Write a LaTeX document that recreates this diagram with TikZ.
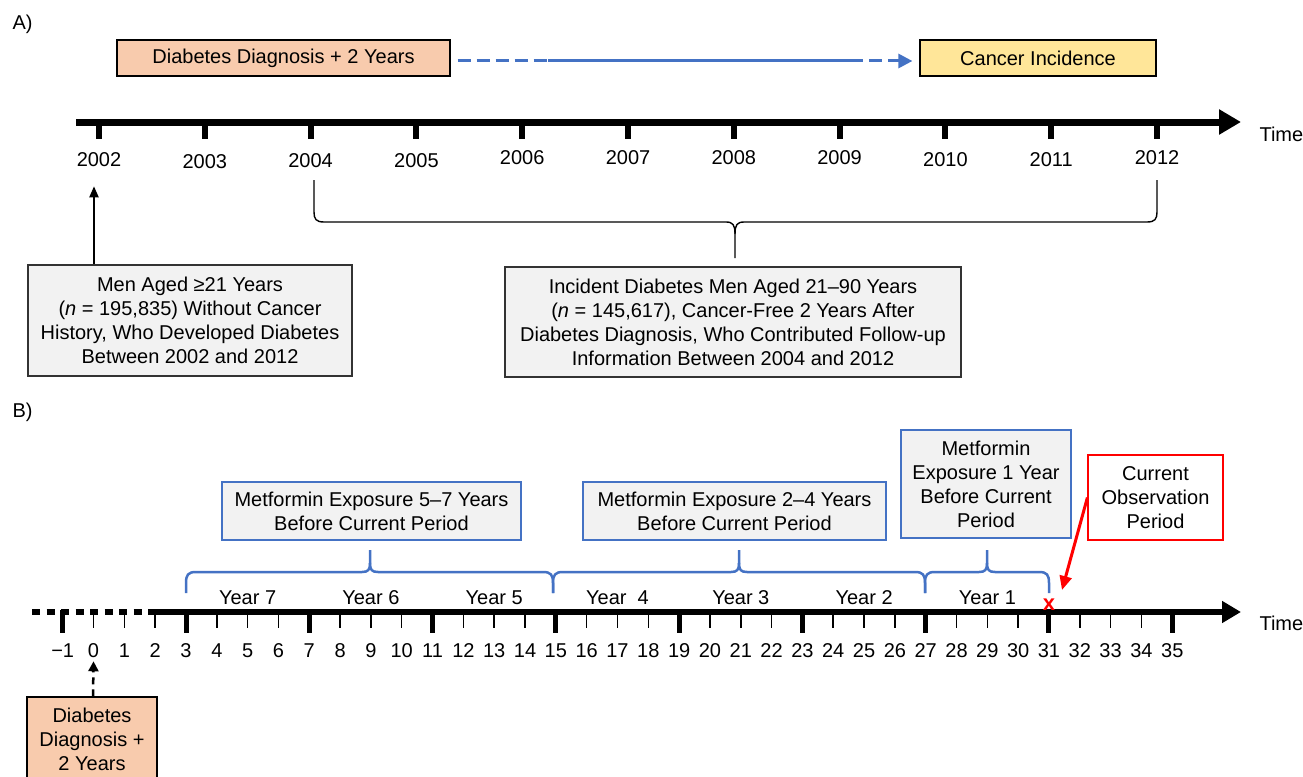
\documentclass[tikz,border=0pt]{standalone}
\usepackage{fontspec}
\setmainfont{Liberation Sans}
\usetikzlibrary{arrows.meta}
\definecolor{peach}{HTML}{F8CBAD}
\definecolor{ylw}{HTML}{FFE699}
\definecolor{lgray}{HTML}{F2F2F2}
\definecolor{bblue}{HTML}{4472C4}
\definecolor{rred}{HTML}{FF0000}
\begin{document}
\begin{tikzpicture}[x=1pt,y=-1pt,
  font=\fontsize{20}{24}\selectfont,
  box/.style={draw=black,line width=1.2pt,inner sep=0pt,align=center},
  bbox/.style={draw=bblue,line width=1.2pt,fill=lgray,inner sep=0pt,align=center},
  lbl/.style={inner sep=2pt},
  bbrace/.style={draw=bblue,line width=2.5pt},
  kbrace/.style={draw=black,line width=1.4pt},
]
\useasboundingbox (0,0) rectangle (1303,776);
\clip (0,0) rectangle (1303,776);

% ---------------- Part A ----------------
\node[anchor=west] (labA) at (9,24) {A)};
\node[box,fill=peach,minimum width=333pt,minimum height=36pt] (dxA) at (283.5,58) {Diabetes Diagnosis + 2 Years};
\node[box,fill=ylw,minimum width=236pt,minimum height=36pt] (canc) at (1038,58) {Cancer Incidence};
\coordinate (s1) at (548,61);
\coordinate (s2) at (850,61);
\draw[bblue,line width=3pt,dash pattern=on 13pt off 6pt] ([xshift=7pt,yshift=-3pt]dxA.east) -- (s1);
\draw[bblue,line width=3pt] (s1) -- (s2);
\draw[bblue,line width=3pt,dash pattern=on 13pt off 6pt,-{Triangle[length=14pt,width=14pt]}] (s2) -- ([xshift=-7pt,yshift=-3pt]canc.west);

% timeline A
\draw[line width=7pt,-{Triangle[length=22pt,width=24pt]}] (76,122) -- (1241,122);
\node[anchor=west] (timeA) at (1256,134) {Time};
\foreach \i/\yy in {0/160,1/162,2/161,3/161,4/158,5/158,6/158,7/158,8/160,9/160,10/158}{
  \pgfmathsetmacro\xx{99+105.8*\i}
  \pgfmathtruncatemacro\yr{2002+\i}
  \draw[line width=6pt] (\xx,120) -- (\xx,139);
  \node[lbl] (y\yr) at (\xx,\yy) {\yr};
}

% brace A
\draw[kbrace] (314,180) -- (314,212) .. controls (314,219) and (316,222) .. (324,222) -- (726,222) .. controls (733,222) and (735,225) .. (735,234) -- (735,258);
\draw[kbrace] (1157,180) -- (1157,212) .. controls (1157,219) and (1155,222) .. (1147,222) -- (744,222) .. controls (737,222) and (735,225) .. (735,234);

\node[box,draw=black!80,fill=lgray,minimum width=324pt,minimum height=111pt] (men) at (190,320.5)
  {Men Aged ≥21 Years\\(\textit{n} = 195,835) Without Cancer\\History, Who Developed Diabetes\\Between 2002 and 2012};
\node[box,draw=black!80,fill=lgray,minimum width=456pt,minimum height=110pt] (inc) at (733,322)
  {Incident Diabetes Men Aged 21–90 Years\\(\textit{n} = 145,617), Cancer-Free 2 Years After\\Diabetes Diagnosis, Who Contributed Follow-up\\Information Between 2004 and 2012};
\draw[line width=2pt,-{Triangle[length=11pt,width=9pt]}] ([xshift=-96pt]men.north) -- ([xshift=-5pt,yshift=-17pt]y2002.south);

% ---------------- Part B ----------------
\node[anchor=west] (labB) at (9,412) {B)};
\draw[line width=6pt,dash pattern=on 8pt off 6.5pt] (32,612) -- (150,612);
\draw[line width=6pt,-{Triangle[length=19pt,width=21pt]}] (150,612) -- (1241,612);
\node[anchor=west] (timeB) at (1256,623) {Time};
\foreach \n in {-1,...,35}{
  \pgfmathsetmacro\xx{186+30.82*(\n-3)}
  \pgfmathtruncatemacro\maj{(mod(\n+5,4)==0) ? 1 : 0}
  \ifnum\maj=1
    \draw[line width=5pt] (\xx,610) -- (\xx,633);
  \else
    \draw[line width=1.5pt] (\xx,612) -- (\xx,628);
  \fi
  \node[lbl] (bn\n) at (\xx,651) {\ifnum\n<0 −1\else\n\fi};
}

% year labels
\foreach \t/\xx in {Year 7/247.6,Year 6/370.9,Year 5/494.2,Year\ \ 4/617.5,Year 3/740.8,Year 2/864.1,Year 1/987.4}{
  \node[lbl] at (\xx,598) {\t};
}

% blue braces
\foreach \xa/\xm/\xb in {186/370/553, 553/739/925, 925/987/1049}{
  \draw[bbrace] (\xa,593) -- (\xa,583) .. controls (\xa,575) and (\xa+2,572) .. (\xa+10,572) -- (\xm-8,572) .. controls (\xm-2,572) and (\xm,570) .. (\xm,563) -- (\xm,550);
  \draw[bbrace] (\xb,593) -- (\xb,583) .. controls (\xb,575) and (\xb-2,572) .. (\xb-10,572) -- (\xm+8,572) .. controls (\xm+2,572) and (\xm,570) .. (\xm,563);
}

\node[bbox,minimum width=299pt,minimum height=58pt] (m57) at (371.5,511) {Metformin Exposure 5–7 Years\\Before Current Period};
\node[bbox,minimum width=303pt,minimum height=58pt] (m24) at (734.5,511) {Metformin Exposure 2–4 Years\\Before Current Period};
\node[bbox,minimum width=170pt,minimum height=108pt] (m1) at (986,484) {Metformin\\Exposure 1 Year\\Before Current\\Period};
\node[box,draw=rred,fill=white,minimum width=135pt,minimum height=85pt] (cur) at (1155.5,497.5) {Current\\Observation\\Period};

\node[text=rred,inner sep=0pt,font=\bfseries\fontsize{22}{22}\selectfont] (xm) at (1049,605) {x};
\coordinate (redtip) at (1062,590);
\draw[rred,line width=3pt,-{Triangle[length=14pt,width=12pt]}] ([yshift=0pt]cur.west) -- (redtip);

\node[box,fill=peach,minimum width=130pt,minimum height=84pt] (dxB) at (92,739) {Diabetes\\Diagnosis +\\2 Years};
\draw[line width=2.5pt,dash pattern=on 7pt off 5pt,-{Triangle[length=10pt,width=10pt]}] ([xshift=1pt]dxB.north) -- ([yshift=-1pt]bn0.south);
\end{tikzpicture}
\end{document}
